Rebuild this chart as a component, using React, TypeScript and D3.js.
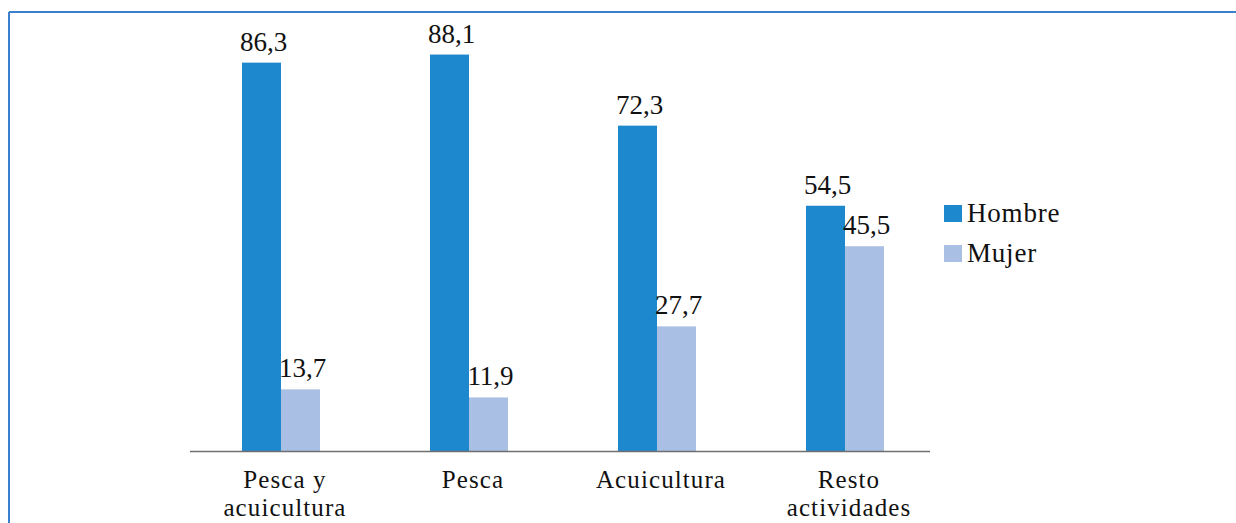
import React from "react";
import * as d3 from "d3";

const categories: string[][] = [["Pesca y", "acuicultura"], ["Pesca"], ["Acuicultura"], ["Resto", "actividades"]];
const seriesNames = ["Hombre", "Mujer"];
const hombre = [86.3, 88.1, 72.3, 54.5];
const mujer = [13.7, 11.9, 27.7, 45.5];
const colors = ["#1e88cf", "#a9bfe3"];
const fmt = (v: number) => v.toFixed(1).replace(".", ",");

export default function App() {
  const W = 1236, H = 523;
  const keys = categories.map((c) => c.join(" "));
  const x = d3.scaleBand<string>().domain(keys).range([187, 939]).padding(0);
  const inner = d3.scaleBand<string>().domain(seriesNames).range([0, 78]);
  const y = d3.scaleLinear().domain([0, 100]).range([451, 1]);
  const series = [hombre, mujer];
  const font = "'Liberation Serif', serif";
  const fs = 27;
  return (
    <svg width={W} height={H} style={{ position: "absolute", left: 0, top: 0, background: "#fff" }}>
      <line x1={9} y1={12} x2={W} y2={12} stroke="#3a80cf" strokeWidth={2} />
      <line x1={9} y1={12} x2={9} y2={H} stroke="#3a80cf" strokeWidth={2} />
      {keys.map((k, i) => {
        const cx = (x(k) ?? 0) + x.bandwidth() / 2;
        const gx = cx - 39;
        return (
          <g key={k}>
            {series.map((s, j) => {
              const bx = gx + (inner(seriesNames[j]) ?? 0);
              const by = y(s[i]);
              return (
                <g key={j}>
                  <rect x={bx} y={by} width={inner.bandwidth()} height={y(0) - by} fill={colors[j]} />
                  <text x={bx + inner.bandwidth() / 2 + 2} y={by - 12} textAnchor="middle" fontFamily={font} fontSize={fs} fill="#111">
                    {fmt(s[i])}
                  </text>
                </g>
              );
            })}
            {categories[i].map((line, li) => (
              <text key={li} x={cx + 4} y={488 + li * 28} textAnchor="middle" fontFamily={font} fontSize={25} letterSpacing={1.1} fill="#111">
                {line}
              </text>
            ))}
          </g>
        );
      })}
      <line x1={190} y1={y(0) + 0.5} x2={930} y2={y(0) + 0.5} stroke="#6f6f6f" strokeWidth={1.5} />
      {seriesNames.map((n, j) => (
        <g key={n} transform={`translate(944, ${205 + j * 40})`}>
          <rect x={0} y={0} width={18} height={17} fill={colors[j]} />
          <text x={23} y={17} fontFamily={font} fontSize={fs} letterSpacing={0.8} fill="#111">{n}</text>
        </g>
      ))}
    </svg>
  );
}
